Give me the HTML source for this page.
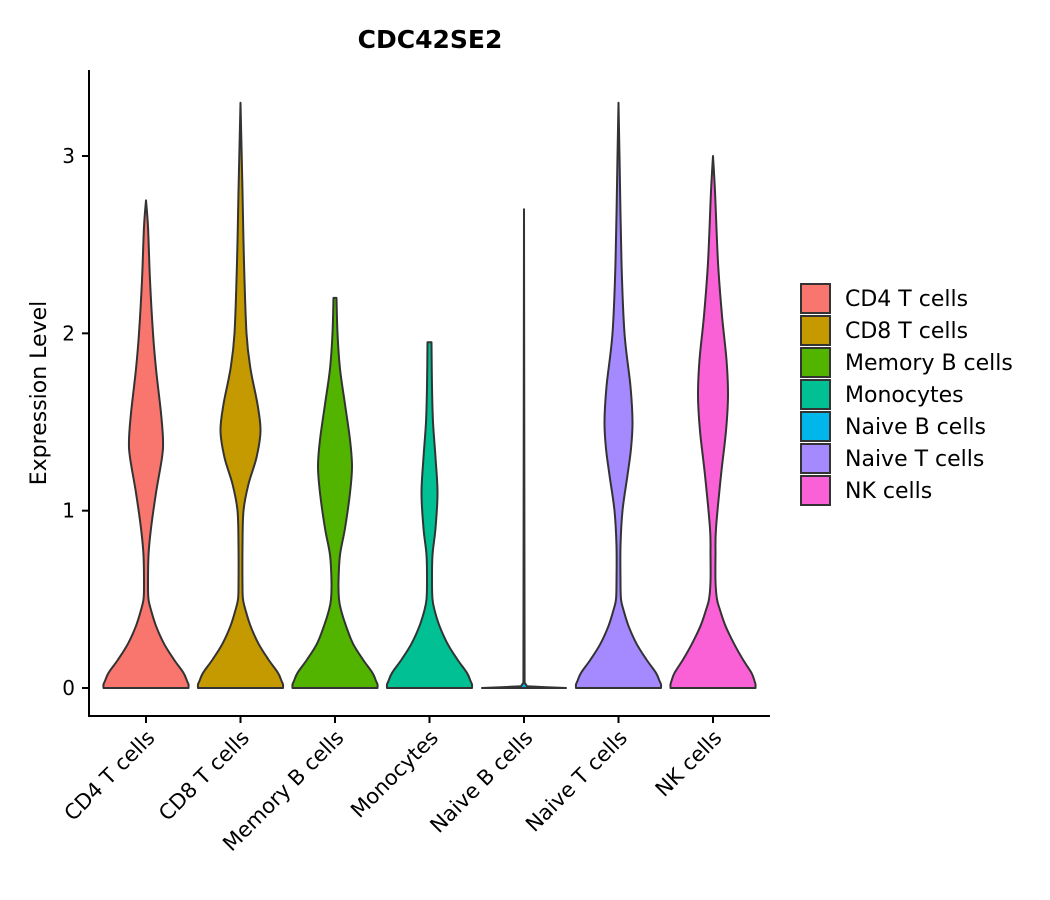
<!DOCTYPE html>
<html><head><meta charset="utf-8"><style>
html,body{margin:0;padding:0;background:#fff;}
svg{display:block;font-family:"DejaVu Sans","Liberation Sans",sans-serif;}
</style></head><body>
<svg id="chart" width="1050" height="900" viewBox="0 0 1050 900">
<text x="430" y="48" text-anchor="middle" font-size="25" font-weight="bold">CDC42SE2</text>
<text transform="translate(46,393) rotate(-90)" text-anchor="middle" font-size="22">Expression Level</text>
<g id="plot"></g>
<g id="legend"></g>
</svg>
<script>
const categories = ["CD4 T cells","CD8 T cells","Memory B cells","Monocytes","Naive B cells","Naive T cells","NK cells"];
const colors = ["#F8766D","#C49A00","#53B400","#00C094","#00B6EB","#A58AFF","#FB61D7"];
const yTicks = [0,1,2,3];
const levelsCD4 = [0,0.02,0.04,0.085,0.16,0.25,0.35,0.44,0.5,0.57,0.75,0.9,1.1,1.3,1.4,1.55,1.8,2.0,2.3,2.6,2.75];
const widthsCD4 = [42.5,42.5,41,37.5,28,18,10,5,2.5,2,2.5,5,10,16,17,15,10,7,4,2,0];
const levelsCD8 = [0,0.02,0.04,0.085,0.16,0.25,0.35,0.44,0.5,0.57,0.8,1.0,1.15,1.3,1.45,1.6,1.8,2.0,2.4,2.8,3.3];
const widthsCD8 = [42.5,42.5,41,37.5,28,18,10,5,2.5,2,2,3,8,16,20,17,10,6,3.5,2,0];
const levelsMemB = [0,0.02,0.04,0.085,0.16,0.25,0.35,0.44,0.5,0.6,0.75,0.9,1.1,1.25,1.4,1.6,1.8,2.0,2.2];
const widthsMemB = [42.5,42.5,41,37.5,28,18,11,6,4,3.5,5,10,15,17,15,10,5,2.5,1.5];
const levelsMono = [0,0.02,0.04,0.085,0.16,0.25,0.35,0.44,0.5,0.6,0.75,0.9,1.1,1.3,1.5,1.7,1.95];
const widthsMono = [42.5,42.5,41,37.5,28,18,10,5,3,2.5,3,6,8,6,3.5,2.5,2];
const levelsNaiveB = [0,0.005,0.01,0.03,2.7];
const widthsNaiveB = [42,20,3,0.6,0];
const levelsNaiveT = [0,0.02,0.04,0.085,0.16,0.25,0.35,0.44,0.5,0.6,0.8,1.0,1.2,1.35,1.5,1.7,2.0,2.4,3.0,3.3];
const widthsNaiveT = [42.5,42.5,41,37.5,28,18,10,5,2.5,2,2,4,9,12.5,14,12,6,3,1,0];
const levelsNK = [0,0.02,0.04,0.085,0.16,0.25,0.35,0.44,0.5,0.6,0.75,0.9,1.2,1.45,1.65,1.85,2.1,2.4,2.8,3.0];
const widthsNK = [42.5,42.5,41.5,38.5,30,21,12.5,7,4,2.5,2.5,3,8,13,15,13.5,9,5,2,0];
const allLevels = [levelsCD4,levelsCD8,levelsMemB,levelsMono,levelsNaiveB,levelsNaiveT,levelsNK];
const allWidths = [widthsCD4,widthsCD8,widthsMemB,widthsMono,widthsNaiveB,widthsNaiveT,widthsNK];

const NS="http://www.w3.org/2000/svg";
const x0=146, xStep=94.5;
function xScale(i){return x0+i*xStep;}
function yScale(v){return 688-v*177.33;}
const plot=document.getElementById('plot');
function mk(t,a,p){const e=document.createElementNS(NS,t);for(const k in a)e.setAttribute(k,a[k]);(p||plot).appendChild(e);return e;}

function segs(pts,smooth){
  let d="";
  for(let i=0;i<pts.length-1;i++){
    const p0=pts[Math.max(0,i-1)],p1=pts[i],p2=pts[i+1],p3=pts[Math.min(pts.length-1,i+2)];
    if(!smooth){d+=" L"+p2[0].toFixed(2)+","+p2[1].toFixed(2);continue;}
    const c1=[p1[0]+(p2[0]-p0[0])/6,p1[1]+(p2[1]-p0[1])/6];
    const c2=[p2[0]-(p3[0]-p1[0])/6,p2[1]-(p3[1]-p1[1])/6];
    d+=" C"+c1[0].toFixed(2)+","+c1[1].toFixed(2)+" "+c2[0].toFixed(2)+","+c2[1].toFixed(2)+" "+p2[0].toFixed(2)+","+p2[1].toFixed(2);
  }
  return d;
}

categories.forEach((c,i)=>{
  const L=allLevels[i],W=allWidths[i],cx=xScale(i);
  let smooth=true;
  for(let j=1;j<L.length-1;j++){const a=L[j]-L[j-1],b=L[j+1]-L[j];if(b/a>20||a/b>20)smooth=false;}
  const right=L.map((v,j)=>[cx+W[j],yScale(v)]);
  const left=L.map((v,j)=>[cx-W[j],yScale(v)]).reverse();
  let d="M"+right[0][0]+","+right[0][1]+segs(right,smooth)+" L"+left[0][0]+","+left[0][1]+segs(left,smooth)+" Z";
  const p=mk('path',{d:d,fill:colors[i],stroke:"#333",'stroke-width':2,'stroke-linejoin':'round'});
  
  
  const t=mk('line',{x1:cx,x2:cx,y1:716,y2:723,stroke:"#000",'stroke-width':2});
  
  
  const lb=mk('text',{transform:"translate("+(cx+10)+",739) rotate(-45)",'text-anchor':'end','font-size':21,fill:"#000"});
  lb.textContent=c;
  
  
});
yTicks.forEach(v=>{
  const y=yScale(v);
  const t=mk('line',{x1:82,x2:89,y1:y,y2:y,stroke:"#000",'stroke-width':2});
  
  
  const lb=mk('text',{x:75,y:y+7,'text-anchor':'end','font-size':20});
  lb.textContent=v;
  
  
});
const ya=mk('line',{x1:89,x2:89,y1:70,y2:717,stroke:"#000",'stroke-width':2});


const xa=mk('line',{x1:88,x2:770,y1:716,y2:716,stroke:"#000",'stroke-width':2});



const lg=document.getElementById('legend');
categories.forEach((c,i)=>{
  const y=284+i*32;
  const r=mk('rect',{x:801,y:y,width:29,height:29,fill:colors[i],stroke:"#333",'stroke-width':2},lg);
  
  
  const t=mk('text',{x:845,y:y+22,'font-size':22},lg);
  t.textContent=c;
  
  
});
</script>
</body></html>
